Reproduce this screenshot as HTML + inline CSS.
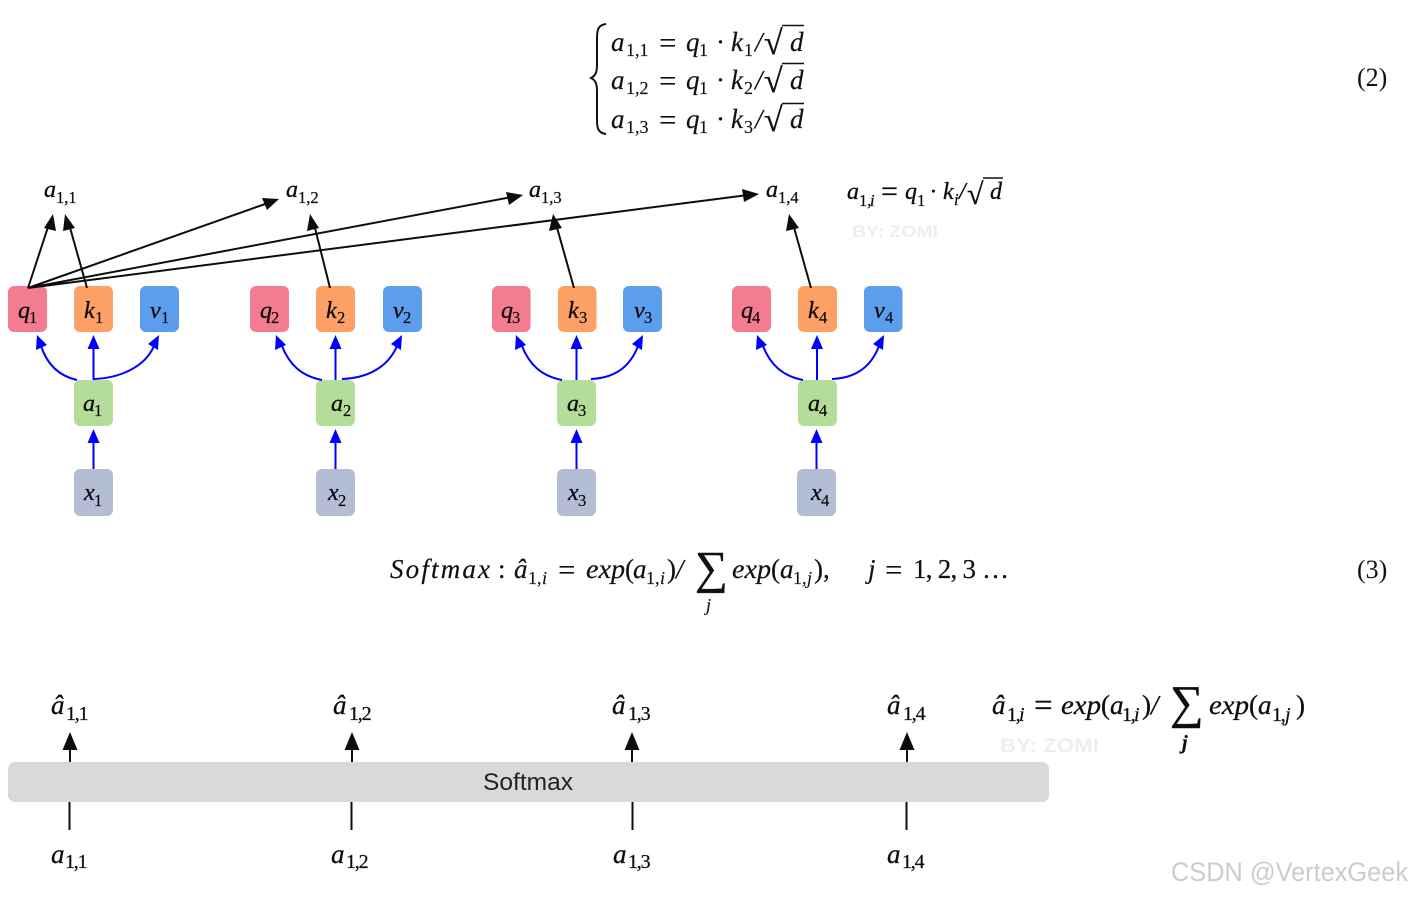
<!DOCTYPE html>
<html><head><meta charset="utf-8"><style>
html,body{margin:0;padding:0;background:#fff}
svg{display:block}
text{font-family:"Liberation Serif",serif;fill:#111}
.i{font-style:italic}
.e{font-size:27px;stroke:#111;stroke-width:.2}
.s{font-size:18px;stroke:#111;stroke-width:.15}
.q{font-size:31px;stroke:#111;stroke-width:.1}
.n{font-size:24px;font-style:italic;fill:#111;stroke:#111;stroke-width:.35}
.ns{font-size:16.5px;fill:#111;stroke:#111;stroke-width:.25}
.l{font-size:27px;font-style:italic;fill:#111;stroke:#111;stroke-width:.3}
.ls{font-size:20px;letter-spacing:-1.2px;fill:#111;stroke:#111;stroke-width:.25}
.b{stroke:#00f;stroke-width:2;fill:none}
.k{stroke:#111;stroke-width:2;fill:none}
.wm{font-family:"Liberation Sans",sans-serif;font-weight:bold;fill:#eeeeee}
.r{font-size:34px;stroke:#111;stroke-width:.4}
</style></head><body>
<svg width="1411" height="897" viewBox="0 0 1411 897" xmlns="http://www.w3.org/2000/svg">
<defs><filter id="bl"><feGaussianBlur stdDeviation="0.35"/></filter></defs>
<rect width="1411" height="897" fill="#fff"/>

<!-- equation 2 -->
<path d="M606,24 C598,25 597,30 597,38 L597,65 C597,73 595,76 591,78 C595,80 597,83 597,91 L597,120 C597,128 598,133 606,134" fill="none" stroke="#111" stroke-width="2"/>
<g>
<text class="e i" x="611" y="51">a</text><text class="s" x="626" y="56">1,1</text>
<text class="q" x="659" y="53">=</text><text class="e i" x="686" y="51">q</text><text class="s" x="699" y="56">1</text>
<text class="e" x="716" y="51">·</text><text class="e i" x="731" y="51">k</text><text class="s" x="744" y="56">1</text><text class="e i" x="755" y="51">/</text>
<text class="r" x="764" y="54">√</text><path d="M782,25.500H804" stroke="#111" stroke-width="1.600"/><text class="e i" x="790" y="51">d</text>

<text class="e i" x="611" y="89">a</text><text class="s" x="626" y="94">1,2</text>
<text class="q" x="659" y="91">=</text><text class="e i" x="686" y="89">q</text><text class="s" x="699" y="94">1</text>
<text class="e" x="716" y="89">·</text><text class="e i" x="731" y="89">k</text><text class="s" x="744" y="94">2</text><text class="e i" x="755" y="89">/</text>
<text class="r" x="764" y="92">√</text><path d="M782,63.500H804" stroke="#111" stroke-width="1.600"/><text class="e i" x="790" y="89">d</text>

<text class="e i" x="611" y="128">a</text><text class="s" x="626" y="133">1,3</text>
<text class="q" x="659" y="130">=</text><text class="e i" x="686" y="128">q</text><text class="s" x="699" y="133">1</text>
<text class="e" x="716" y="128">·</text><text class="e i" x="731" y="128">k</text><text class="s" x="744" y="133">3</text><text class="e i" x="755" y="128">/</text>
<text class="r" x="764" y="131">√</text><path d="M782,103.500H804" stroke="#111" stroke-width="1.600"/><text class="e i" x="790" y="128">d</text>
</g>
<text class="e" x="1357" y="86" style="stroke-width:0;font-size:26px">(2)</text>

<!-- diagram 1 -->
<g filter="url(#bl)">
<g>
<rect x="8" y="286" width="39" height="46" rx="6" fill="#f47c90"/><rect x="74" y="286" width="39" height="46" rx="6" fill="#fda066"/><rect x="140" y="286" width="39" height="46" rx="6" fill="#5b9ded"/>
<rect x="250" y="286" width="39" height="46" rx="6" fill="#f47c90"/><rect x="316" y="286" width="39" height="46" rx="6" fill="#fda066"/><rect x="383" y="286" width="39" height="46" rx="6" fill="#5b9ded"/>
<rect x="492" y="286" width="38.500" height="46" rx="6" fill="#f47c90"/><rect x="558" y="286" width="38.500" height="46" rx="6" fill="#fda066"/><rect x="623" y="286" width="39" height="46" rx="6" fill="#5b9ded"/>
<rect x="732" y="286" width="39" height="46" rx="6" fill="#f47c90"/><rect x="798" y="286" width="39" height="46" rx="6" fill="#fda066"/><rect x="864" y="286" width="38.500" height="46" rx="6" fill="#5b9ded"/>
<rect x="74" y="380" width="39" height="46" rx="6" fill="#b3dd98"/><rect x="316" y="380" width="39" height="46" rx="6" fill="#b3dd98"/><rect x="557" y="380" width="39" height="46" rx="6" fill="#b3dd98"/><rect x="798" y="380" width="39" height="46" rx="6" fill="#b3dd98"/>
<rect x="74" y="469" width="39" height="47" rx="6" fill="#b3bdd4"/><rect x="316" y="469" width="39" height="47" rx="6" fill="#b3bdd4"/><rect x="557" y="469" width="39" height="47" rx="6" fill="#b3bdd4"/><rect x="797" y="469" width="39" height="47" rx="6" fill="#b3bdd4"/>
</g>

<!-- blue connectors -->
<g>
<path class="b" d="M93.500,469V440M93.500,380V346M77,380C59,376 47,364 41,346M94,379C120,378 145,367 154,346"/><path d="M93.500,429l-6,14h12zM93.500,335l-6,14h12zM37,335l-1,15 11,-5zM159,335l-11,9 10,6z" fill="#00f"/>
<path class="b" d="M335.500,469V440M335.500,380V346M322,380C301,376 289,364 282,346M342,379C368,378 388,367 397,346"/><path d="M335.500,429l-6,14h12zM335.500,335l-6,14h12zM276,335l-1,15 11,-5zM402,335l-11,9 10,6z" fill="#00f"/>
<path class="b" d="M576.500,469V440M576.500,380V346M562,380C541,376 529,364 522,346M591,379C615,378 630,367 638,346"/><path d="M576.500,429l-6,14h12zM576.500,335l-6,14h12zM516,335l-1,15 11,-5zM643,335l-11,9 10,6z" fill="#00f"/>
<path class="b" d="M816.500,469V440M817,380V346M803,380C782,376 770,364 763,346M832,379C856,378 871,367 879,346"/><path d="M816.500,429l-6,14h12zM817,335l-6,14h12zM757,335l-1,15 11,-5zM884,335l-11,9 10,6z" fill="#00f"/>
</g>

<!-- black connectors -->
<g>
<path class="k" d="M28,288L49,224M87,288L69,224M28,288L268,203M28,288L512,197M28,288L748,195M330,288L314,224M574,288L556,224M811,288L793,224"/>
<path d="M53,214l-9,14 12,3zM65,214l-2,17 12,-3zM279,199l-17,-1 5,12zM523,195l-17,-3 3,13zM759,194l-17,-5 2,13zM310,214l-3,17 12,-3zM553,214l-4,17 13,-3zM789,214l-3,17 13,-3z" fill="#111"/>
</g>

<!-- node labels -->
<g>
<text class="n" x="18" y="318">q</text><text class="ns" x="29" y="323">1</text><text class="n" x="84" y="318">k</text><text class="ns" x="95" y="323">1</text><text class="n" x="150" y="318">v</text><text class="ns" x="161" y="323">1</text>
<text class="n" x="260" y="318">q</text><text class="ns" x="271" y="323">2</text><text class="n" x="326" y="318">k</text><text class="ns" x="337" y="323">2</text><text class="n" x="393" y="318">v</text><text class="ns" x="403" y="323">2</text>
<text class="n" x="501" y="318">q</text><text class="ns" x="512" y="323">3</text><text class="n" x="568" y="318">k</text><text class="ns" x="579" y="323">3</text><text class="n" x="634" y="318">v</text><text class="ns" x="644" y="323">3</text>
<text class="n" x="741" y="318">q</text><text class="ns" x="752" y="323">4</text><text class="n" x="808" y="318">k</text><text class="ns" x="819" y="323">4</text><text class="n" x="874" y="318">v</text><text class="ns" x="885" y="323">4</text>
<text class="n" x="83" y="411">a</text><text class="ns" x="94" y="416">1</text><text class="n" x="331" y="411">a</text><text class="ns" x="343" y="416">2</text><text class="n" x="567" y="411">a</text><text class="ns" x="578" y="416">3</text><text class="n" x="808" y="411">a</text><text class="ns" x="819" y="416">4</text>
<text class="n" x="84" y="500">x</text><text class="ns" x="94" y="506">1</text><text class="n" x="328" y="500">x</text><text class="ns" x="338" y="506">2</text><text class="n" x="568" y="500">x</text><text class="ns" x="578" y="506">3</text><text class="n" x="811" y="500">x</text><text class="ns" x="821" y="506">4</text>
</g>

<!-- top labels -->
<g>
<text class="n" x="44" y="197">a</text><text class="ns" x="56" y="203">1,1</text>
<text class="n" x="286" y="197">a</text><text class="ns" x="298" y="203">1,2</text>
<text class="n" x="529" y="197">a</text><text class="ns" x="541" y="203">1,3</text>
<text class="n" x="766" y="197">a</text><text class="ns" x="778" y="203">1,4</text>
<text class="n" x="847" y="199">a</text><text class="ns" x="859" y="206">1,</text><text class="ns i" x="870" y="206">i</text>
<text class="n" x="881" y="201" style="font-size:30px;font-style:normal">=</text><text class="n" x="905" y="199">q</text><text class="ns" x="917" y="206">1</text>
<text class="n" x="930" y="199">·</text><text class="n" x="943" y="199">k</text><text class="ns i" x="954" y="205">i</text><text class="n" x="959" y="199">/</text>
<text class="r" x="967" y="204" style="font-size:30px">√</text><path d="M983,178H1003" stroke="#111" stroke-width="1.600"/><text class="n" x="990" y="199">d</text>
</g>
<text class="wm" x="852" y="237" font-size="17" textLength="86" lengthAdjust="spacingAndGlyphs">BY: ZOMI</text>
</g>

<!-- equation 3 -->
<text class="e i" x="390" y="578" textLength="100" lengthAdjust="spacing">Softmax</text>
<text class="e" x="498" y="578">:</text>
<text class="e i" x="514" y="578">â</text><text class="s" x="528" y="584">1,</text><text class="s i" x="542" y="584">i</text>
<text class="q" x="558" y="580">=</text>
<text class="e i" x="586" y="578" textLength="39" lengthAdjust="spacingAndGlyphs">exp</text><text class="e" x="625" y="578">(</text><text class="e i" x="633" y="578">a</text><text class="s" x="646" y="584">1,</text><text class="s i" x="660" y="584">i</text><text class="e" x="667" y="578">)</text><text class="e i" x="676" y="578">/</text>
<text x="695" y="583" style="font-size:46px;stroke:#111;stroke-width:.5">∑</text>
<text class="s i" x="706" y="611">j</text>
<text class="e i" x="732" y="578" textLength="39" lengthAdjust="spacingAndGlyphs">exp</text><text class="e" x="771" y="578">(</text><text class="e i" x="780" y="578">a</text><text class="s" x="793" y="584">1,</text><text class="s i" x="807" y="584">j</text><text class="e" x="814" y="578">),</text>
<text class="e i" x="868" y="578">j</text><text class="q" x="885" y="580">=</text><text class="e" x="913" y="578" textLength="63">1, 2, 3</text><text class="e" x="982" y="578">…</text>
<text class="e" x="1357" y="578" style="stroke-width:0;font-size:26px">(3)</text>

<!-- diagram 2 -->
<g filter="url(#bl)">
<rect x="8" y="762" width="1041" height="40" rx="7" fill="#d9d9d9"/>
<text x="483" y="790" textLength="90" lengthAdjust="spacingAndGlyphs" style="font-family:'Liberation Sans',sans-serif;font-size:24px;fill:#222">Softmax</text>
<path class="k" d="M70,762V745M352,762V745M632,762V745M907,762V745M69.500,802V830M351.500,802V830M632.500,802V830M906.500,802V830"/>
<path d="M70,732l-7.500,18h15zM352,732l-7.500,18h15zM632,732l-7.500,18h15zM907,732l-7.500,18h15z" fill="#111"/>

<text class="l" x="51" y="714">â</text><text class="ls" x="66" y="720">1,1</text>
<text class="l" x="333" y="714">â</text><text class="ls" x="349" y="720">1,2</text>
<text class="l" x="612" y="714">â</text><text class="ls" x="628" y="720">1,3</text>
<text class="l" x="887" y="714">â</text><text class="ls" x="903" y="720">1,4</text>
<text class="l" x="51" y="863">a</text><text class="ls" x="65" y="868">1,1</text>
<text class="l" x="331" y="863">a</text><text class="ls" x="346" y="868">1,2</text>
<text class="l" x="613" y="863">a</text><text class="ls" x="628" y="868">1,3</text>
<text class="l" x="887" y="863">a</text><text class="ls" x="902" y="868">1,4</text>

<text class="l" x="992" y="714">â</text><text class="ls" x="1007" y="721">1,</text><text class="ls i" x="1019" y="721">i</text>
<text class="l" x="1034" y="716" style="font-size:33px;font-style:normal">=</text><text class="l" x="1061" y="714" textLength="40" lengthAdjust="spacingAndGlyphs">exp</text><text class="l" x="1101" y="714" style="font-style:normal">(</text><text class="l" x="1110" y="714">a</text><text class="ls" x="1122" y="721">1,</text><text class="ls i" x="1134" y="721">i</text><text class="l" x="1142" y="714" style="font-style:normal">)</text><text class="l" x="1151" y="714">/</text>
<text x="1170" y="718" style="font-size:47px;stroke:#111;stroke-width:.5">∑</text>
<text class="ls i" x="1182" y="749" style="font-weight:bold">j</text>
<text class="l" x="1209" y="714" textLength="40" lengthAdjust="spacingAndGlyphs">exp</text><text class="l" x="1249" y="714" style="font-style:normal">(</text><text class="l" x="1258" y="714">a</text><text class="ls" x="1272" y="721">1,</text><text class="ls i" x="1285" y="721">j</text><text class="l" x="1296" y="714" style="font-style:normal">)</text>
<text class="wm" x="1000" y="752" font-size="19" textLength="99" lengthAdjust="spacingAndGlyphs">BY: ZOMI</text>
</g>

<text x="1171" y="881" textLength="237" lengthAdjust="spacingAndGlyphs" style="font-family:'Liberation Sans',sans-serif;font-size:27px;fill:#cccccc">CSDN @VertexGeek</text>
</svg>
</body></html>
